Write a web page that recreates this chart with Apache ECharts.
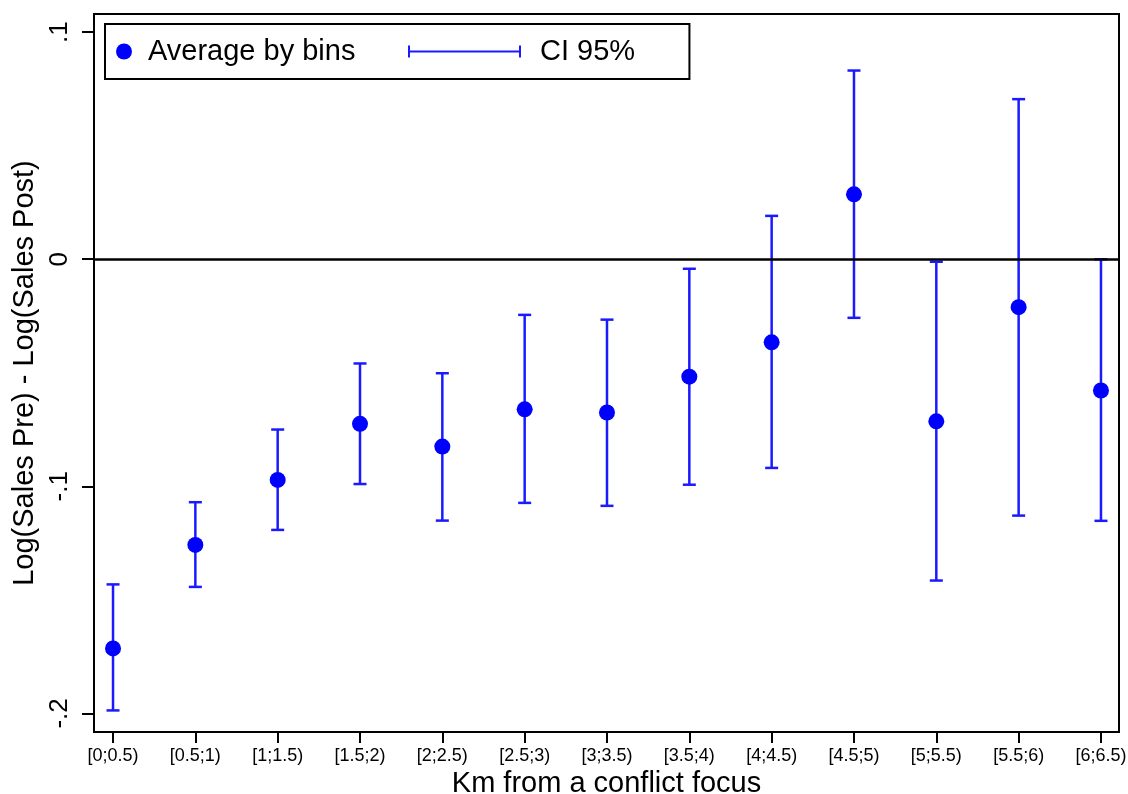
<!DOCTYPE html>
<html>
<head>
<meta charset="utf-8">
<script src="https://cdn.jsdelivr.net/npm/echarts@6/dist/echarts.min.js"></script>
<style>
html,body{margin:0;padding:0;background:#fff;}
#chart{width:1128px;height:794px;}
</style>
</head>
<body>
<div id="chart"></div>
<script>
const categories = ['[0;0.5)', '[0.5;1)', '[1;1.5)', '[1.5;2)', '[2;2.5)', '[2.5;3)', '[3;3.5)', '[3.5;4)', '[4;4.5)', '[4.5;5)', '[5;5.5)', '[5.5;6)', '[6;6.5)'];
const means = [-0.1714, -0.1258, -0.0972, -0.0725, -0.0825, -0.0661, -0.0675, -0.0517, -0.0366, 0.0286, -0.0714, -0.0211, -0.0578];
const lower = [-0.1987, -0.1443, -0.1192, -0.0990, -0.1151, -0.1073, -0.1086, -0.0993, -0.0919, -0.0258, -0.1415, -0.1129, -0.1152];
const upper = [-0.1432, -0.1070, -0.0750, -0.0459, -0.0502, -0.0245, -0.0266, -0.0042, 0.0191, 0.0831, -0.0011, 0.0705, 0.0000];
const yTicks = [-0.2, -0.1, 0, 0.1];
const yTickLabels = ['-.2', '-.1', '0', '.1'];

const FONT = "'Liberation Sans', Arial, sans-serif";
const BLUE = '#0000ff';
const LINEBLUE = '#1a1aff';

const xIdx = categories.map((c, i) => i);
const pointData = means.map((m, i) => [i, m]);
const ciData = means.map((m, i) => [i, lower[i], upper[i]]);

const chart = echarts.init(document.getElementById('chart'), null, {renderer: 'canvas'});

const option = {
  backgroundColor: '#fff',
  animation: false,
  textStyle: {fontFamily: FONT, color: '#000'},
  grid: {left: 94, top: 14, right: 9, bottom: 62, show: true, borderColor: '#000', borderWidth: 2, backgroundColor: '#fff', containLabel: false, outerBoundsMode: 'none'},
  legend: [
    {
      left: 105, top: 24,
      padding: [13, 334, 13, 11],
      borderColor: '#000', borderWidth: 2, borderRadius: 0,
      backgroundColor: '#fff',
      itemWidth: 38, itemHeight: 16, itemGap: 0,
      selectedMode: false,
      textStyle: {fontSize: 29, fontFamily: FONT, color: '#000'},
      data: [{name: 'Average by bins', icon: 'circle'}]
    },
    {
      left: 408, top: 37,
      padding: 0,
      itemWidth: 113, itemHeight: 12,
      selectedMode: false,
      z: 10,
      textStyle: {fontSize: 29, fontFamily: FONT, color: '#000', padding: [0, 0, 0, 14]},
      data: [{name: 'CI 95%', icon: 'path://M0,0 h2 v12 h-2 Z M0,5 h113 v2 h-113 Z M111,0 h2 v12 h-2 Z', itemStyle: {color: LINEBLUE, borderWidth: 0}}]
    }
  ],
  xAxis: {
    type: 'value',
    min: -0.231, max: 12.219,
    name: 'Km from a conflict focus',
    nameLocation: 'middle',
    nameGap: 33,
    nameTextStyle: {fontSize: 29, fontFamily: FONT, color: '#000'},
    axisLine: {show: true, onZero: false, lineStyle: {color: '#000', width: 2}},
    axisTick: {show: true, inside: false, length: 11, lineStyle: {color: '#000', width: 2}, customValues: xIdx},
    axisLabel: {
      show: true, margin: 15, fontSize: 18, fontFamily: FONT, color: '#000',
      customValues: xIdx,
      formatter: v => categories[Math.round(v)]
    },
    splitLine: {show: false}
  },
  yAxis: {
    type: 'value',
    min: -0.2082, max: 0.108,
    name: 'Log(Sales Pre) - Log(Sales Post)',
    nameLocation: 'middle',
    nameGap: 49,
    nameRotate: 90,
    nameTextStyle: {fontSize: 29, fontFamily: FONT, color: '#000'},
    axisLine: {show: true, onZero: false, lineStyle: {color: '#000', width: 2}},
    axisTick: {show: true, inside: false, length: 12, lineStyle: {color: '#000', width: 2}, customValues: yTicks},
    axisLabel: {
      show: true, margin: 21, rotate: 90, fontSize: 26, fontFamily: FONT, color: '#000',
      customValues: yTicks,
      formatter: v => yTickLabels[yTicks.findIndex(t => Math.abs(t - v) < 1e-9)]
    },
    splitLine: {show: false}
  },
  series: [
    {
      name: 'CI 95%',
      type: 'custom',
      itemStyle: {color: LINEBLUE},
      data: ciData,
      z: 3,
      renderItem: function (params, api) {
        const x = api.value(0);
        const lo = api.coord([x, api.value(1)]);
        const hi = api.coord([x, api.value(2)]);
        const half = 6.5;
        const style = {stroke: LINEBLUE, lineWidth: 2.5};
        return {
          type: 'group',
          children: [
            {type: 'line', shape: {x1: lo[0], y1: lo[1], x2: hi[0], y2: hi[1]}, style: style},
            {type: 'line', shape: {x1: lo[0] - half, y1: lo[1], x2: lo[0] + half, y2: lo[1]}, style: style},
            {type: 'line', shape: {x1: hi[0] - half, y1: hi[1], x2: hi[0] + half, y2: hi[1]}, style: style}
          ]
        };
      },
      markLine: {
        silent: true,
        symbol: 'none',
        label: {show: false},
        lineStyle: {color: '#000', width: 2.5, type: 'solid'},
        data: [{yAxis: 0}]
      }
    },
    {
      name: 'Average by bins',
      type: 'scatter',
      symbol: 'circle',
      symbolSize: 16,
      itemStyle: {color: BLUE, opacity: 1},
      data: pointData,
      z: 5
    }
  ]
};
chart.setOption(option);
</script>
</body>
</html>
